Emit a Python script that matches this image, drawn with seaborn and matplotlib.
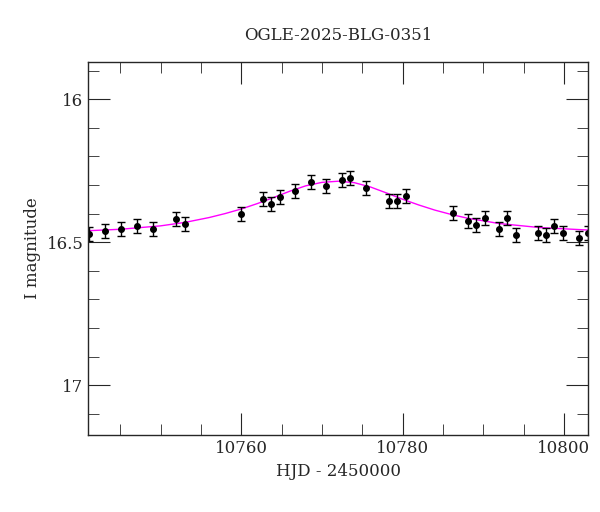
import numpy as np
import matplotlib
matplotlib.use('Agg')
import matplotlib.pyplot as plt
import seaborn as sns

# Observations (HJD - 2450000, I mag, error)
hjd = [10741.1, 10743.1, 10745.1, 10747.1, 10749.1, 10751.9, 10753.0, 10759.9,
       10762.7, 10763.7, 10764.8, 10766.7, 10768.6, 10770.5, 10772.5, 10773.5,
       10775.4, 10778.3, 10779.3, 10780.4, 10786.2, 10788.1, 10789.1, 10790.2,
       10791.9, 10793.0, 10794.1, 10796.8, 10797.8, 10798.8, 10799.9, 10801.9, 10803.0]
mag = [16.472, 16.462, 16.455, 16.444, 16.455, 16.420, 16.437, 16.402,
       16.350, 16.367, 16.343, 16.322, 16.290, 16.304, 16.283, 16.276,
       16.311, 16.357, 16.357, 16.339, 16.399, 16.427, 16.441, 16.416,
       16.455, 16.416, 16.476, 16.469, 16.476, 16.444, 16.469, 16.486, 16.469]
err = [0.025] * len(hjd)

# Model curve
model_x = [10741.0, 10745.0, 10750.0, 10753.0, 10756.0, 10758.0, 10760.0, 10762.0,
           10764.0, 10766.0, 10768.0, 10770.0, 10772.0, 10774.0, 10776.0, 10778.0,
           10780.0, 10782.0, 10784.0, 10786.0, 10788.0, 10792.0, 10797.0, 10803.2]
model_y = [16.460, 16.455, 16.443, 16.431, 16.414, 16.400, 16.384, 16.365,
           16.344, 16.322, 16.303, 16.291, 16.287, 16.292, 16.307, 16.328,
           16.350, 16.370, 16.388, 16.403, 16.416, 16.435, 16.449, 16.458]

sns.set_style('ticks')
plt.rcParams['font.family'] = 'DejaVu Serif'
fig, ax = plt.subplots(figsize=(6, 5.12), dpi=100)
fig.subplots_adjust(left=0.147, right=0.98, top=0.879, bottom=0.15)

sns.lineplot(x=model_x, y=model_y, color='magenta', lw=1, ax=ax)
ax.errorbar(hjd, mag, yerr=err, fmt='o', color='black', ms=4, capsize=3, elinewidth=1, capthick=1)

ax.set_xlim(10741.0, 10803.0)
ax.set_ylim(17.175, 15.87)
ax.set_xticks([10760, 10780, 10800])
ax.set_xticks(np.arange(10745, 10805, 5), minor=True)
ax.set_yticks([16, 16.5, 17])
ax.set_yticklabels(['16', '16.5', '17'])
ax.set_yticks(np.arange(15.9, 17.2, 0.1), minor=True)
ax.tick_params(which='both', direction='in', top=True, right=True, labelsize=12)
ax.tick_params(which='major', length=16)
ax.tick_params(which='minor', length=8)
ax.set_xlabel('HJD - 2450000', fontsize=12)
ax.set_ylabel('I magnitude', fontsize=12)
ax.set_title('OGLE-2025-BLG-0351', fontsize=12, pad=16)
for s in ax.spines.values():
    s.set_linewidth(1)

plt.savefig('out.png')
